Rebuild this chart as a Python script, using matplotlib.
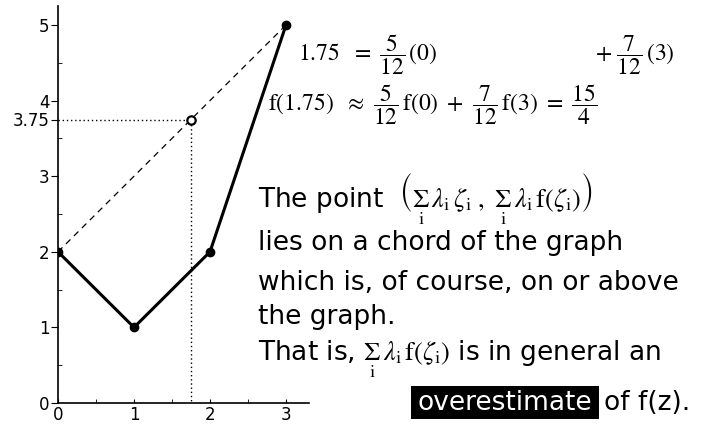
import matplotlib
matplotlib.use("Agg")
import matplotlib.pyplot as plt
from matplotlib.patches import Rectangle

# piecewise linear function and the chord through its end points
xs = [0, 1, 2, 3]
ys = [2, 1, 2, 5]
chord_x = [0, 3]
chord_y = [2, 5]
z = 1.75
z_val = 3.75

y_ticks = [0, 1, 2, 3, 3.75, 4, 5]
y_tick_labels = ["0", "1", "2", "3", "3.75", "4", "5"]
x_ticks = [0, 1, 2, 3]
x_tick_labels = ["0", "1", "2", "3"]

plt.rcParams["mathtext.fontset"] = "stix"
W, H = 711, 428

fig = plt.figure(figsize=(W / 100, H / 100), dpi=100)
# axes placed in pixel units: x 0->58px, 76px per unit; y 0->403px, 75.6px per unit
x0, y0, ppx, ppy = 58, 403, 76, 75.6
xmax, ymax = 3.3, 5.25
ax = fig.add_axes([x0 / W, (H - y0) / H, xmax * ppx / W, ymax * ppy / H])
ax.set_xlim(0, xmax)
ax.set_ylim(0, ymax)

ax.plot(chord_x, chord_y, color="black", lw=0.9, dashes=(5, 4))
ax.plot([0, z, z], [z_val, z_val, 0], color="black", lw=1, ls=(0, (1, 2)))
ax.plot(xs, ys, color="black", lw=2.2, marker="o", ms=6)
ax.plot([z], [z_val], marker="o", ms=6, mfc="white", mec="black", mew=1.6)

for s in ["top", "right"]:
    ax.spines[s].set_visible(False)
ax.spines["left"].set_linewidth(1.2)
ax.spines["bottom"].set_linewidth(1.2)

tick_font = {"family": ["Liberation Sans Narrow", "DejaVu Sans"], "size": 12}
ax.set_yticks(y_ticks)
ax.set_yticklabels(y_tick_labels, fontdict=tick_font)
ax.set_yticks([0.5, 1.5, 2.5, 3.5, 4.5], minor=True)
ax.tick_params(axis="y", which="major", direction="out", length=5, pad=1)
ax.tick_params(axis="y", which="minor", direction="in", length=3)
ax.set_xticks(x_ticks)
ax.set_xticklabels(x_tick_labels, fontdict=tick_font)
ax.set_xticks([0.5, 1.5, 2.5], minor=True)
ax.tick_params(axis="x", which="both", direction="in", length=3, pad=2)


def put(px, py, s, **kw):
    fig.text(px / W, 1 - py / H, s, **kw)


math_kw = {"fontsize": 17, "va": "center", "ha": "left"}
put(298, 55, r"$1.75\ \ =\ \dfrac{5}{12}\,(0)$", **math_kw)
put(595, 55, r"$+\ \dfrac{7}{12}\,(3)$", **math_kw)
put(268, 105, r"$\mathrm{f}(1.75)\ \ \approx\ \dfrac{5}{12}\,\mathrm{f}(0)\ +\ \dfrac{7}{12}\,"
    r"\mathrm{f}(3)\ =\ \dfrac{15}{4}$", **math_kw)

sum_i = r"\underset{\mathrm{i}}{\Sigma}\,\lambda_{\mathrm{i}}\,"
txt_kw = {"fontsize": 19, "va": "baseline", "ha": "left", "family": "DejaVu Sans"}
put(258, 207, "The point  $\\left(" + sum_i + r"\zeta_{\mathrm{i}}\ ,\ " + sum_i
    + r"\mathrm{f}(\zeta_{\mathrm{i}})\right)$", **txt_kw)
put(258, 250, "lies on a chord of the graph", **txt_kw)
put(258, 290, "which is, of course, on or above", **txt_kw)
put(258, 324, "the graph.", **txt_kw)
put(258, 360, "That is, $" + sum_i + r"\mathrm{f}(\zeta_{\mathrm{i}})$ is in general an", **txt_kw)

fig.patches.append(Rectangle((411 / W, 1 - 419 / H), 188 / W, 33 / H,
                             transform=fig.transFigure, facecolor="black",
                             edgecolor="none"))
put(505, 410, "overestimate", color="white", **dict(txt_kw, ha="center"))
put(604, 410, "of f(z).", **txt_kw)

fig.savefig("out.png", dpi=100)
